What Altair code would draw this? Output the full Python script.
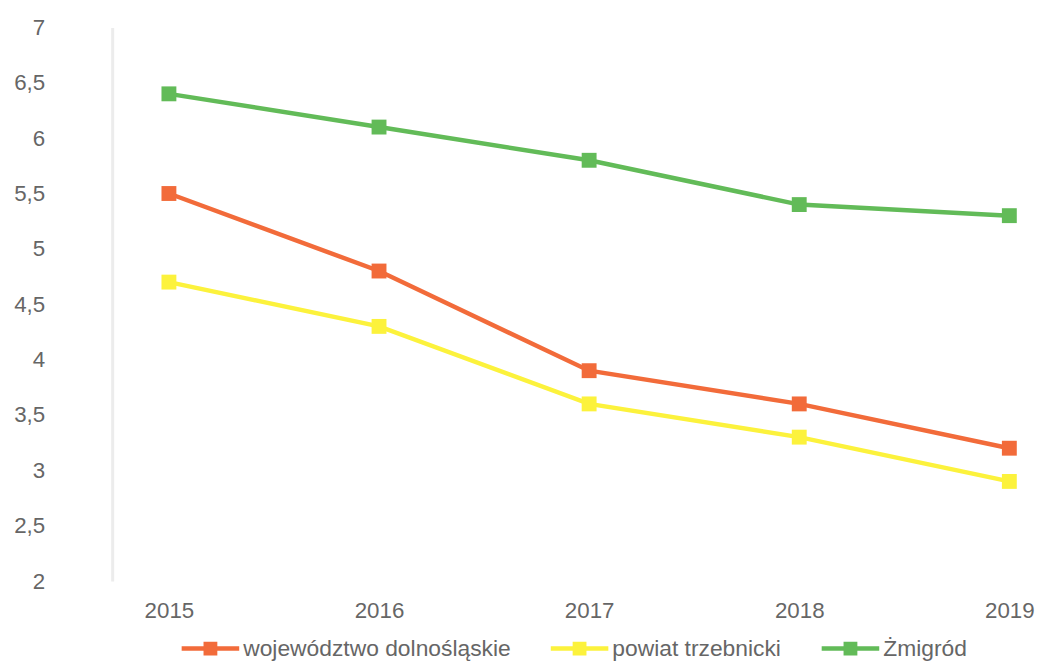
import altair as alt
import pandas as pd

years = [2015, 2016, 2017, 2018, 2019]
series_names = ["województwo dolnośląskie", "powiat trzebnicki", "Żmigród"]
woj_values = [5.5, 4.8, 3.9, 3.6, 3.2]
pow_values = [4.7, 4.3, 3.6, 3.3, 2.9]
zmi_values = [6.4, 6.1, 5.8, 5.4, 5.3]
series_colors = ["#f26b3a", "#fcf23c", "#62bb58"]
y_ticks = [2, 2.5, 3, 3.5, 4, 4.5, 5, 5.5, 6, 6.5, 7]

rows = []
for name, vals in zip(series_names, [woj_values, pow_values, zmi_values]):
    for yr, v in zip(years, vals):
        rows.append({"rok": yr, "wartosc": v, "seria": name})
df = pd.DataFrame(rows)

FONT = "Liberation Sans"
GRAY = "#666666"

x_enc = alt.X(
    "rok:Q",
    scale=alt.Scale(domain=[2014.73, 2019.075], nice=False, zero=False),
    axis=alt.Axis(values=years, format="d", title=None, grid=False, ticks=False,
                  domain=False, labelFontSize=22.5, labelColor=GRAY, labelFont=FONT,
                  labelPadding=19, labelFlush=False),
)
y_enc = alt.Y(
    "wartosc:Q",
    scale=alt.Scale(domain=[2, 7], nice=False, zero=False),
    axis=alt.Axis(values=y_ticks, title=None, grid=False, ticks=False,
                  domain=True, domainColor="#ececec", domainWidth=3,
                  labelExpr="replace(format(datum.value, '.1~f'), '.', ',')",
                  labelFontSize=22.5, labelColor=GRAY, labelFont=FONT,
                  labelPadding=68, labelFlush=False),
)
color_scale = alt.Scale(domain=series_names, range=series_colors)

legend_path = "M-1,-0.08H-0.24V-0.24H0.24V-0.08H1V0.08H0.24V0.24H-0.24V0.08H-1Z"
legend = alt.Legend(
    title=None, orient="none", direction="horizontal",
    legendX=70, legendY=597,
    symbolType=legend_path, symbolSize=3364, symbolStrokeWidth=0,
    labelFontSize=23, labelColor=GRAY, labelFont=FONT, labelOffset=4,
    columnPadding=40, labelLimit=400,
)

lines = alt.Chart(df).mark_line(strokeWidth=4.5).encode(
    x=x_enc, y=y_enc,
    color=alt.Color("seria:N", scale=color_scale, legend=legend, sort=series_names),
)
points = alt.Chart(df).mark_point(shape="square", filled=True, size=225, opacity=1).encode(
    x=x_enc, y=y_enc,
    color=alt.Color("seria:N", scale=color_scale, legend=legend, sort=series_names),
)

chart = alt.layer(lines, points).properties(
    width=920, height=558,
    autosize=alt.AutoSizeParams(type="none"),
    padding={"left": 105, "top": 17, "right": 13, "bottom": 81},
).configure(background="white").configure_view(stroke=None)

chart.save("out.html", embed_options={"renderer": "svg", "actions": False})
